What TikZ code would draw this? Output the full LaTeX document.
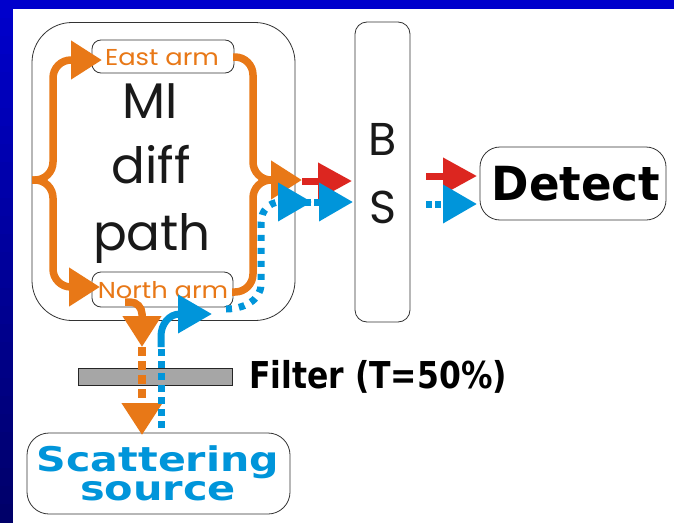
\documentclass[tikz,border=0pt]{standalone}
\usepackage{fontspec}
\usetikzlibrary{arrows.meta}
\newfontfamily\gothic{Poppins}
\newfontfamily\heavy{DejaVu Sans}
\definecolor{orng}{RGB}{232,120,23}
\definecolor{blu}{RGB}{0,149,218}
\definecolor{rd}{RGB}{220,38,32}
\definecolor{frameblue}{RGB}{0,0,204}
\definecolor{framenavy}{RGB}{0,0,105}
\definecolor{fltgray}{RGB}{166,166,166}
\tikzset{
  box/.style={draw=black!80, line width=0.8pt, inner sep=0pt},
  ora/.style={draw=orng, line width=7.5pt},
  ortip/.style={-{Triangle[length=31pt,width=37pt]}},
  bludot/.style={draw=blu, line width=7pt, dash pattern=on 7pt off 5pt},
  blusol/.style={draw=blu, line width=7pt},
  bltip/.style={-{Triangle[length=34pt,width=37pt]}},
  redl/.style={draw=rd, line width=7pt},
  rdtip/.style={-{Triangle[length=34pt,width=35pt]}},
  gtxt/.style={font=\gothic\fontsize{50}{50}\selectfont, text=black!90, anchor=base, inner sep=0pt},
  armtxt/.style={font=\gothic\fontsize{23}{23}\selectfont, text=orng, anchor=base, inner sep=0pt},
  hvtxt/.style={font=\heavy\bfseries, inner sep=0pt}
}
\begin{document}
\begin{tikzpicture}[x=1pt,y=-1pt]
\useasboundingbox (0,0) rectangle (674,522);
% frame
\fill[white] (0,0) rectangle (674,522);
\fill[frameblue] (0,0) rectangle (674,9);
\foreach \i in {0,...,28} {
  \pgfmathsetmacro{\pc}{100*\i/28}
  \fill[framenavy!\pc!frameblue] (0,{\i*18}) rectangle (13,{\i*18+18.5});
}
% boxes
\node[box, rounded corners=40pt, minimum width=263pt, minimum height=298pt] (mi) at (163.5,171.5) {};
\node[box, rounded corners=9pt, minimum width=142pt, minimum height=33pt] (east) at (163,56.5) {};
\node[box, rounded corners=9pt, minimum width=141pt, minimum height=35pt] (north) at (162.5,289.5) {};
\node[box, rounded corners=12pt, minimum width=55pt, minimum height=300pt] (bs) at (382.5,172) {};
\node[box, rounded corners=20pt, minimum width=186pt, minimum height=73pt] (det) at (573,183.5) {};
\node[box, rounded corners=22pt, minimum width=263pt, minimum height=81pt] (scat) at (158.5,473.5) {};
\node[draw=black!85, line width=0.8pt, fill=fltgray, minimum width=154pt, minimum height=17pt, inner sep=0pt] (filt) at (155,376.5) {};
% texts
\node[gtxt] (t1) at (150,118) {MI};
\node[gtxt] (t2) at (151,183) {diff};
\node[gtxt] (t3) at (152,250) {path};
\node[gtxt, font=\gothic\fontsize{46}{46}\selectfont] (tb) at (383,155) {B};
\node[gtxt, font=\gothic\fontsize{46}{46}\selectfont] (ts) at (383,223) {S};
\node[armtxt] (te) at (162,65) {\scalebox{1.12}[1]{East arm}};
\node[armtxt] (tn) at (163,298) {\scalebox{1.12}[1]{North arm}};
\node[hvtxt, anchor=center] (tdet) at (576,184) {\scalebox{0.96}[1]{\fontsize{47}{47}\selectfont Detect}};
\node[hvtxt, anchor=west] (tfilt) at (249,377) {\scalebox{0.85}[1]{\fontsize{37}{37}\selectfont Filter (T=50\%)}};
\node[hvtxt, text=blu, align=center, anchor=center, font=\heavy\bfseries\fontsize{34}{29}\selectfont] (tsc) at (158,473)
  {\scalebox{1.21}[1]{Scattering}\\\scalebox{1.22}[1]{source}};
% coordinates
\coordinate (bl) at (32,180);
\coordinate (blt) at (53,180);
\coordinate (bltop) at (53,60);
\coordinate (eastin) at (102,60);
\coordinate (blbot) at (53,287);
\coordinate (northin) at (100,287);
\coordinate (eastout) at (233,57);
\coordinate (brtop) at (253,57);
\coordinate (brmid) at (253,180);
\coordinate (brjoin) at (270,180);
\coordinate (orout) at (302,180);
\coordinate (northout) at (232,292);
\coordinate (brbot) at (253,292);
\coordinate (rdA) at (302,181);
\coordinate (rdB) at (352,181);
\coordinate (rdC) at (426,176);
\coordinate (rdD) at (477,176);
\coordinate (bl1) at (312,202);
\coordinate (bl2) at (353,202);
\coordinate (blC) at (426,204);
\coordinate (blD) at (477,204);
\coordinate (ndown0) at (125,302);
\coordinate (ndown1) at (142,302);
\coordinate (ndown2) at (142,347);
\coordinate (ndown3) at (142,435);
\coordinate (bup0) at (161,428);
\coordinate (bup1) at (161,347);
\coordinate (bup2) at (212,314);
\coordinate (bdot0) at (226,309);
\coordinate (bdot1) at (261,284);
\coordinate (bdot2) at (261,222);
% left brace
\draw[ora, rounded corners=18pt, ortip] (bl) -- (blt) -- (bltop) -- (eastin);
\draw[ora, rounded corners=18pt, ortip] (bl) -- (blt) -- (blbot) -- (northin);
% right brace
\draw[ora, rounded corners=18pt, ortip] (eastout) -- (brtop) -- (brmid) -- (orout);
\draw[ora, rounded corners=18pt] (northout) -- (brbot) -- (brmid) -- (brjoin);
% down from north arm
\draw[ora, rounded corners=12pt, ortip] (ndown0) -- (ndown1) -- (ndown2);
\draw[ora, dash pattern=on 9pt off 5pt, -{Triangle[length=32pt,width=39pt]}] (ndown2) -- (ndown3);
% red
\draw[redl, rdtip] (rdA) -- (rdB);
\draw[redl, rdtip] (rdC) -- (rdD);
% blue
\draw[bludot] (bup0) -- (bup1);
\draw[blusol, bltip] (bup1) -- (161,336) to[out=90,in=180] (180,314) -- (bup2);
\draw[bludot, dash pattern=on 6pt off 7pt] (bdot0) to[out=0,in=-90] (bdot1) -- (bdot2) to[out=90,in=180] (280,202);
\draw[blusol, bltip] (278,202) -- (bl1);
\draw[bludot, dash pattern=on 6pt off 3pt, bltip] (305,202) -- (bl2);
\draw[bludot, dash pattern=on 6pt off 3pt, bltip] (blC) -- (blD);
\end{tikzpicture}
\end{document}
